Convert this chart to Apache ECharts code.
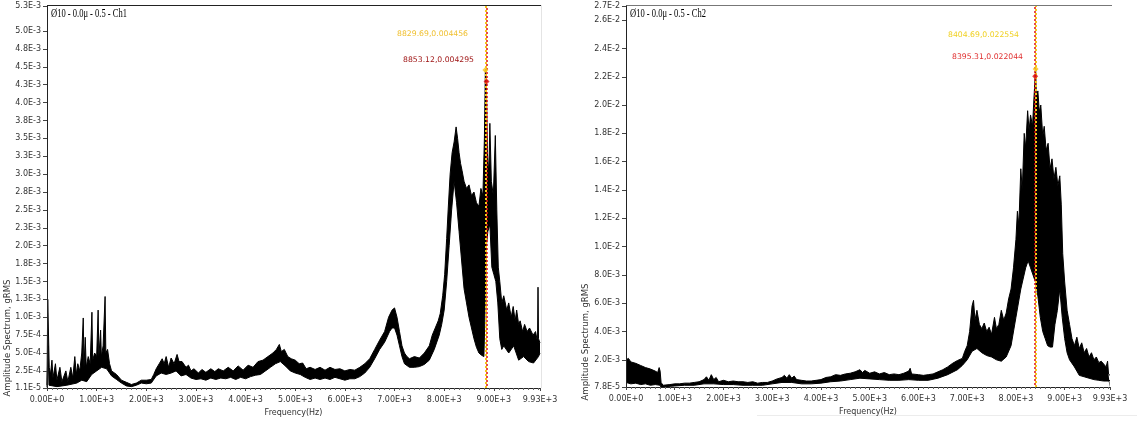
<!DOCTYPE html>
<html><head><meta charset="utf-8">
<script src="https://cdn.jsdelivr.net/npm/echarts@6/dist/echarts.min.js"></script>
<style>html,body{margin:0;padding:0;background:#fff}#c{width:1137px;height:425px}</style>
</head><body><div id="c"></div>
<script>
// All amplitude values are in units of 1e-3 gRMS; frequencies in Hz.
// Spectra are stored as max (upper) and min (lower) envelopes.
const ch1UpperFreq = [0,15,30,45,70,100,120,170,200,260,300,380,420,480,520,560,590,620,660,700,730,745,770,790,830,870,905,920,960,1000,1030,1045,1080,1095,1130,1170,1185,1220,1260,1300,1400,1500,1600,1700,1800,1900,2000,2100,2150,2200,2260,2320,2360,2400,2450,2500,2560,2620,2660,2720,2800,2850,2900,2960,3050,3120,3200,3300,3380,3450,3550,3650,3750,3850,3950,4050,4150,4250,4350,4450,4550,4620,4680,4720,4780,4850,4920,5000,5080,5150,5220,5300,5400,5500,5600,5700,5800,5900,6000,6100,6200,6300,6400,6500,6600,6700,6800,6880,6950,7000,7050,7100,7150,7200,7250,7300,7400,7500,7600,7700,7760,7820,7880,7920,7970,8010,8050,8080,8120,8160,8200,8240,8270,8300,8330,8360,8400,8450,8500,8550,8600,8650,8700,8740,8780,8810,8830,8850,8870,8900,8920,8950,8990,9030,9060,9090,9120,9160,9200,9260,9300,9350,9390,9430,9460,9500,9530,9580,9620,9670,9720,9790,9840,9880,9890,9900,9930];
const ch1UpperVal  = [0.05,1.25,1.25,0.3,0.2,0.4,0.15,0.35,0.12,0.3,0.1,0.25,0.1,0.3,0.15,0.45,0.2,0.35,0.25,0.5,0.99,0.3,0.72,0.3,0.45,0.35,1.07,0.4,0.5,0.45,1.1,0.45,0.82,0.45,0.6,1.29,0.5,0.55,0.35,0.25,0.2,0.12,0.09,0.06,0.08,0.12,0.12,0.13,0.2,0.28,0.35,0.42,0.35,0.45,0.3,0.43,0.35,0.48,0.38,0.38,0.3,0.33,0.25,0.28,0.22,0.27,0.23,0.28,0.24,0.28,0.25,0.3,0.25,0.32,0.26,0.33,0.3,0.38,0.4,0.45,0.5,0.55,0.62,0.52,0.55,0.45,0.42,0.4,0.35,0.36,0.28,0.3,0.27,0.3,0.26,0.3,0.27,0.28,0.25,0.27,0.26,0.3,0.35,0.42,0.55,0.68,0.8,1.0,1.1,1.13,1.0,0.8,0.6,0.5,0.45,0.42,0.45,0.43,0.5,0.6,0.75,0.85,0.95,1.05,1.3,1.6,2.1,2.5,3.0,3.3,3.45,3.66,3.5,3.3,3.15,3.05,2.9,2.8,2.85,2.7,2.75,2.6,2.55,2.8,2.7,3.5,4.46,4.3,3.3,3.0,3.71,2.9,2.7,3.54,2.5,1.7,1.5,1.2,1.3,1.1,1.2,1.0,1.15,0.95,1.1,0.9,0.95,0.8,0.9,0.8,0.85,0.75,0.8,0.65,1.42,0.7,0.64];
const ch1LowerFreq = [0,20,40,200,400,600,700,800,900,1000,1100,1200,1260,1300,1400,1500,1600,1700,1800,1900,2000,2100,2200,2300,2400,2500,2600,2700,2800,2900,3000,3100,3200,3300,3400,3500,3600,3700,3800,3900,4000,4100,4200,4300,4400,4500,4600,4700,4800,4900,5000,5100,5200,5300,5400,5500,5600,5700,5800,5900,6000,6100,6200,6300,6400,6500,6600,6700,6800,6900,6950,7000,7050,7100,7150,7200,7300,7400,7500,7600,7700,7800,7900,7950,8000,8050,8100,8150,8200,8250,8300,8350,8400,8450,8500,8550,8600,8650,8700,8750,8800,8820,8850,8880,8920,8960,9000,9040,9080,9120,9160,9200,9300,9400,9500,9600,9700,9800,9900,9930];
const ch1LowerVal  = [0.02,0.6,0.05,0.03,0.05,0.08,0.12,0.1,0.2,0.25,0.3,0.28,0.22,0.18,0.13,0.08,0.04,0.03,0.05,0.08,0.07,0.08,0.18,0.22,0.2,0.22,0.25,0.18,0.2,0.15,0.13,0.14,0.12,0.15,0.13,0.15,0.14,0.16,0.13,0.16,0.14,0.17,0.19,0.2,0.25,0.3,0.35,0.38,0.32,0.25,0.22,0.2,0.16,0.13,0.15,0.13,0.15,0.13,0.16,0.14,0.12,0.14,0.14,0.17,0.22,0.3,0.42,0.55,0.65,0.8,0.85,0.85,0.75,0.6,0.45,0.35,0.3,0.3,0.31,0.34,0.4,0.55,0.75,0.9,1.1,1.5,2.0,2.5,2.9,2.6,2.2,1.8,1.4,1.2,1.0,0.85,0.7,0.58,0.5,0.47,0.45,1.0,2.0,2.2,2.3,1.7,1.6,1.5,1.2,0.7,0.55,0.6,0.5,0.6,0.4,0.45,0.38,0.36,0.45,0.5];

const ch2UpperFreq = [0,50,100,200,300,400,500,600,650,680,700,720,760,900,1000,1100,1200,1300,1400,1500,1600,1650,1700,1750,1800,1850,1900,2000,2100,2200,2300,2400,2500,2600,2700,2800,2900,3000,3100,3200,3250,3300,3350,3400,3450,3500,3600,3700,3800,3900,4000,4100,4200,4300,4400,4500,4600,4700,4800,4850,4900,5000,5100,5200,5300,5400,5500,5600,5700,5800,5830,5860,5900,6000,6100,6200,6300,6400,6500,6600,6700,6800,6900,6950,7000,7050,7100,7130,7160,7200,7250,7300,7350,7400,7450,7500,7560,7600,7650,7700,7750,7800,7850,7900,7950,8000,8030,8060,8100,8130,8170,8200,8240,8270,8300,8340,8370,8395,8405,8420,8450,8480,8510,8550,8580,8620,8660,8700,8740,8780,8820,8860,8900,8930,8960,9000,9050,9100,9150,9200,9250,9300,9350,9400,9450,9500,9550,9600,9650,9700,9750,9800,9850,9880,9900,9930];
const ch2UpperVal  = [2.0,2.1,1.85,1.75,1.6,1.45,1.35,1.2,1.1,1.45,1.2,0.4,0.2,0.25,0.3,0.3,0.35,0.35,0.4,0.45,0.6,0.8,0.55,0.95,0.6,0.75,0.45,0.55,0.45,0.5,0.45,0.45,0.4,0.45,0.35,0.4,0.4,0.5,0.65,0.75,0.9,0.7,0.95,0.7,0.85,0.6,0.55,0.5,0.5,0.55,0.6,0.75,0.8,0.95,0.9,1.0,1.05,1.15,1.3,1.1,1.25,1.05,1.15,1.0,1.1,0.95,1.0,0.95,1.05,1.2,1.4,1.0,1.0,0.95,0.9,0.95,1.0,1.15,1.3,1.5,1.75,1.95,2.1,2.6,3.0,4.0,5.8,6.2,4.8,5.5,4.5,4.2,4.6,4.0,4.3,3.8,5.0,4.2,4.5,5.5,4.8,5.3,6.3,7.0,8.5,10.5,12.5,11.5,15.5,14.0,18.0,17.0,19.6,18.2,19.3,18.5,20.5,22.0,22.55,20.5,21.0,19.5,20.0,17.8,18.5,16.8,17.3,15.5,16.2,14.8,15.6,14.3,15.0,13.0,9.5,7.5,5.5,4.5,3.5,3.0,3.6,2.8,3.2,2.5,2.8,2.2,2.5,2.0,2.2,1.8,1.9,1.7,1.5,1.9,1.0,0.9];
const ch2LowerFreq = [0,100,200,300,400,500,600,700,720,800,1000,1200,1400,1600,1800,2000,2200,2400,2600,2800,3000,3200,3400,3600,3800,4000,4200,4400,4600,4800,5000,5200,5400,5600,5800,6000,6200,6400,6600,6800,6900,7000,7100,7200,7300,7400,7500,7600,7700,7800,7900,8000,8100,8200,8250,8300,8350,8400,8450,8500,8550,8600,8650,8700,8750,8800,8850,8900,8950,9000,9050,9100,9200,9300,9400,9500,9600,9700,9800,9900,9930];
const ch2LowerVal  = [0.4,0.3,0.35,0.25,0.3,0.2,0.25,0.2,0.05,0.1,0.15,0.2,0.2,0.3,0.3,0.25,0.25,0.2,0.2,0.2,0.3,0.4,0.4,0.3,0.3,0.35,0.45,0.5,0.6,0.7,0.65,0.6,0.55,0.55,0.6,0.55,0.55,0.7,0.95,1.3,1.6,2.0,2.6,2.8,2.5,2.3,2.2,2.0,1.9,2.2,3.0,5.0,7.0,8.5,9.0,8.5,8.0,7.5,6.5,5.0,4.0,3.5,3.0,2.9,2.9,4.5,5.5,7.0,5.0,3.5,2.5,2.0,1.5,0.9,0.8,0.7,0.6,0.55,0.5,0.5,0.55];

// cursors (frequency, amplitude) and their readouts
const ch1CursorFreq = [8829.69, 8853.12];
const ch1CursorVal  = [4.456, 4.295];
const ch1CursorText = ['8829.69,0.004456', '8853.12,0.004295'];
const ch2CursorFreq = [8404.69, 8395.31];
const ch2CursorVal  = [22.554, 22.044];
const ch2CursorText = ['8404.69,0.022554', '8395.31,0.022044'];

// axis ticks
const xTickValues = [0,1000,2000,3000,4000,5000,6000,7000,8000,9000,9930];
const xTickLabels = ['0.00E+0','1.00E+3','2.00E+3','3.00E+3','4.00E+3','5.00E+3','6.00E+3','7.00E+3','8.00E+3','9.00E+3','9.93E+3'];
const ch1YTickValues = [0.011,0.25,0.5,0.75,1.0,1.25,1.5,1.75,2.0,2.25,2.5,2.75,3.0,3.25,3.5,3.75,4.0,4.25,4.5,4.75,5.0,5.35];
const ch1YTickLabels = ['1.1E-5','2.5E-4','5.0E-4','7.5E-4','1.0E-3','1.3E-3','1.5E-3','1.8E-3','2.0E-3','2.3E-3','2.5E-3','2.8E-3','3.0E-3','3.3E-3','3.5E-3','3.8E-3','4.0E-3','4.3E-3','4.5E-3','4.8E-3','5.0E-3','5.3E-3'];
const ch2YTickValues = [0.078,2,4,6,8,10,12,14,16,18,20,22,24,26,27];
const ch2YTickLabels = ['7.8E-5','2.0E-3','4.0E-3','6.0E-3','8.0E-3','1.0E-2','1.2E-2','1.4E-2','1.6E-2','1.8E-2','2.0E-2','2.2E-2','2.4E-2','2.6E-2','2.7E-2'];

const titles = ['Ø10 - 0.0μ - 0.5 - Ch1', 'Ø10 - 0.0μ - 0.5 - Ch2'];
const xName = 'Frequency(Hz)';
const yName = 'Amplitude Spectrum, gRMS';

// ---------------------------------------------------------------
const zip = (a, b) => a.map((x, i) => [x, b[i]]);
const FONT = 'DejaVu Sans';
const grids = [
  {left: 47, top: 6, width: 493, height: 382},
  {left: 626, top: 6, width: 484, height: 381}
];
function labelFrom(values, labels) {
  return v => { const i = values.findIndex(t => Math.abs(t - v) < 1e-6); return i < 0 ? '' : labels[i]; };
}
function xAxis(idx) {
  return {
    type: 'value', gridIndex: idx, min: 0, max: 9930, interval: 1000, z: 10,
    name: xName, nameLocation: 'middle', nameGap: 19,
    nameTextStyle: {fontFamily: FONT, fontSize: 8, color: '#333'},
    axisLine: {show: true, lineStyle: {color: '#222', width: 1}},
    axisTick: {show: true, length: 3, lineStyle: {color: '#444'}},
    minorTick: {show: true, splitNumber: 10, length: 2, lineStyle: {color: '#666'}},
    axisLabel: {customValues: xTickValues, formatter: labelFrom(xTickValues, xTickLabels),
      fontFamily: FONT, fontSize: 8, color: '#333', margin: 8, showMaxLabel: true, showMinLabel: true},
    splitLine: {show: false}, minorSplitLine: {show: false}
  };
}
function yAxis(idx, vals, labs) {
  return {
    type: 'value', gridIndex: idx, min: vals[0], max: vals[vals.length - 1], z: 10,
    axisLine: {show: true, lineStyle: {color: '#222', width: 1}},
    axisTick: {show: true, length: 4, customValues: vals, lineStyle: {color: '#444'}},
    axisLabel: {customValues: vals, formatter: labelFrom(vals, labs),
      fontFamily: FONT, fontSize: 8, color: '#333', margin: 6},
    splitLine: {show: false}
  };
}
function bandSeries(idx, uf, uv, lf, lv) {
  return [
    {type: 'line', xAxisIndex: idx, yAxisIndex: idx, data: zip(uf, uv), symbol: 'none', z: 2,
     lineStyle: {color: '#000', width: 1}, areaStyle: {color: '#000', opacity: 1, origin: 'start'}, animation: false},
    {type: 'line', xAxisIndex: idx, yAxisIndex: idx, data: zip(lf, lv), symbol: 'none', z: 3,
     lineStyle: {color: '#000', width: 1}, areaStyle: {color: '#fff', opacity: 1, origin: 'start'}, animation: false}
  ];
}
function cursorSeries(idx, cf, cv) {
  const cols = ['#f5c518', '#e01010'];
  return {
    type: 'scatter', xAxisIndex: idx, yAxisIndex: idx, z: 6, animation: false,
    data: cf.map((f, i) => ({value: [f, cv[i]], itemStyle: {color: cols[i]}})),
    symbol: 'diamond', symbolSize: 6,
    markLine: {silent: true, symbol: 'none', animation: false, label: {show: false},
      data: cf.map((f, i) => ({xAxis: f, lineStyle: {color: cols[i], type: [2, 2], width: i ? 1.5 : 2, dashOffset: i ? 2 : 0}}))}
  };
}
const chart = echarts.init(document.getElementById('c'), null, {renderer: 'canvas'});
const g = [];
// titles (serif, narrow)
g.push({type: 'text', x: 51, y: 14, scaleX: 0.74, style: {text: titles[0], font: '11.5px "Liberation Serif"', fill: '#000', verticalAlign: 'middle'}});
g.push({type: 'text', x: 630, y: 14, scaleX: 0.74, style: {text: titles[1], font: '11.5px "Liberation Serif"', fill: '#000', verticalAlign: 'middle'}});
// y axis names
g.push({type: 'text', x: 8, y: 338, rotation: Math.PI / 2, style: {text: yName, font: '8.5px "DejaVu Sans"', fill: '#333', align: 'center', verticalAlign: 'middle'}});
g.push({type: 'text', x: 586, y: 342, rotation: Math.PI / 2, style: {text: yName, font: '8.5px "DejaVu Sans"', fill: '#333', align: 'center', verticalAlign: 'middle'}});
// cursor readouts
g.push({type: 'text', x: 468, y: 34, style: {text: ch1CursorText[0], font: '7.7px "DejaVu Sans"', fill: '#f0c030', align: 'right', verticalAlign: 'middle'}});
g.push({type: 'text', x: 474, y: 60, style: {text: ch1CursorText[1], font: '7.7px "DejaVu Sans"', fill: '#a01818', align: 'right', verticalAlign: 'middle'}});
g.push({type: 'text', x: 1019, y: 35, style: {text: ch2CursorText[0], font: '7.7px "DejaVu Sans"', fill: '#f0d020', align: 'right', verticalAlign: 'middle'}});
g.push({type: 'text', x: 1023, y: 57, style: {text: ch2CursorText[1], font: '7.7px "DejaVu Sans"', fill: '#e03030', align: 'right', verticalAlign: 'middle'}});
// frame lines
g.push({type: 'line', shape: {x1: 47, y1: 5.5, x2: 541, y2: 5.5}, style: {stroke: '#222', lineWidth: 1}});
g.push({type: 'line', shape: {x1: 541.5, y1: 5, x2: 541.5, y2: 388}, style: {stroke: '#e4e4e4', lineWidth: 1}});
g.push({type: 'line', shape: {x1: 626, y1: 5.5, x2: 1112, y2: 5.5}, style: {stroke: '#777', lineWidth: 1}});
g.push({type: 'line', shape: {x1: 757, y1: 415.5, x2: 1137, y2: 415.5}, style: {stroke: '#ececec', lineWidth: 1}});

chart.setOption({
  animation: false,
  backgroundColor: '#fff',
  grid: grids,
  xAxis: [xAxis(0), xAxis(1)],
  yAxis: [yAxis(0, ch1YTickValues, ch1YTickLabels), yAxis(1, ch2YTickValues, ch2YTickLabels)],
  series: [
    ...bandSeries(0, ch1UpperFreq, ch1UpperVal, ch1LowerFreq, ch1LowerVal),
    ...bandSeries(1, ch2UpperFreq, ch2UpperVal, ch2LowerFreq, ch2LowerVal),
    cursorSeries(0, ch1CursorFreq, ch1CursorVal),
    cursorSeries(1, ch2CursorFreq, ch2CursorVal)
  ],
  graphic: g
});
</script></body></html>
